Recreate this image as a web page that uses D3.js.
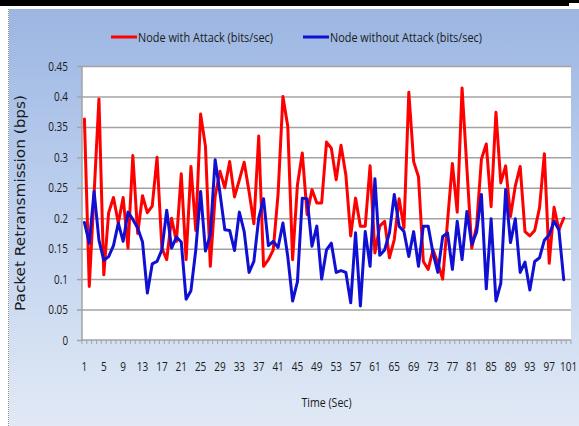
<!DOCTYPE html>
<html>
<head>
<meta charset="utf-8">
<script src="https://cdn.jsdelivr.net/npm/d3@7"></script>
<style>
  html, body { margin: 0; padding: 0; background: #ffffff; }
  svg { display: block; }
  text { font-family: "Open Sans", "Liberation Sans", sans-serif; fill: #1a1a1a; }
</style>
</head>
<body>
<svg id="chart" width="579" height="426"></svg>
<script>
// Time axis categories (seconds 1..101)
const times = d3.range(1, 102);

// Packet retransmission (bps) per second
const withAttack = [
  0.363, 0.088, 0.240, 0.396, 0.107, 0.209, 0.234, 0.192, 0.234, 0.151,
  0.303, 0.175, 0.237, 0.209, 0.220, 0.300, 0.151, 0.132, 0.200, 0.162,
  0.273, 0.132, 0.285, 0.180, 0.371, 0.318, 0.121, 0.236, 0.277, 0.250,
  0.293, 0.235, 0.263, 0.292, 0.244, 0.191, 0.335, 0.121, 0.132, 0.148,
  0.240, 0.400, 0.351, 0.132, 0.255, 0.307, 0.206, 0.247, 0.225, 0.225,
  0.325, 0.315, 0.263, 0.320, 0.271, 0.171, 0.233, 0.187, 0.187, 0.286,
  0.143, 0.187, 0.195, 0.135, 0.165, 0.232, 0.184, 0.407, 0.293, 0.268,
  0.129, 0.116, 0.148, 0.126, 0.100, 0.195, 0.290, 0.210, 0.414, 0.282,
  0.151, 0.187, 0.297, 0.322, 0.219, 0.374, 0.258, 0.286, 0.203, 0.253,
  0.285, 0.178, 0.171, 0.180, 0.217, 0.306, 0.126, 0.218, 0.181, 0.200
];

const withoutAttack = [
  0.193, 0.159, 0.244, 0.164, 0.131, 0.137, 0.155, 0.192, 0.162, 0.210,
  0.198, 0.184, 0.161, 0.077, 0.125, 0.129, 0.148, 0.213, 0.151, 0.169,
  0.161, 0.067, 0.081, 0.148, 0.244, 0.146, 0.173, 0.296, 0.241, 0.181,
  0.180, 0.147, 0.210, 0.178, 0.111, 0.129, 0.200, 0.232, 0.155, 0.162,
  0.152, 0.192, 0.137, 0.064, 0.096, 0.233, 0.232, 0.154, 0.187, 0.100,
  0.148, 0.159, 0.111, 0.114, 0.111, 0.061, 0.176, 0.056, 0.178, 0.121,
  0.265, 0.139, 0.148, 0.176, 0.239, 0.187, 0.178, 0.137, 0.178, 0.121,
  0.187, 0.187, 0.143, 0.111, 0.170, 0.176, 0.116, 0.195, 0.132, 0.211,
  0.157, 0.177, 0.239, 0.084, 0.199, 0.064, 0.093, 0.247, 0.160, 0.199,
  0.111, 0.128, 0.082, 0.129, 0.135, 0.164, 0.173, 0.195, 0.181, 0.099
];

const seriesNames = ["Node with Attack (bits/sec)", "Node without Attack (bits/sec)"];
const seriesColors = ["#ff0000", "#1010d4"];

const yTicks = [0, 0.05, 0.1, 0.15, 0.2, 0.25, 0.3, 0.35, 0.4, 0.45];
const yTickLabels = ["0", "0.05", "0.1", "0.15", "0.2", "0.25", "0.3", "0.35", "0.4", "0.45"];
const xTickLabels = d3.range(1, 102, 4);

const svg = d3.select("#chart");
const W = 579, H = 426;
const plot = { left: 82, right: 571, top: 66, bottom: 340 };

// Condensed label width for the numeric tick labels
const narrowWidth = s => Array.from(s).reduce((w, ch) => w + (ch === "." ? 2.9 : 5.6), 0);

// Panel background with vertical gradient
const defs = svg.append("defs");
const grad = defs.append("linearGradient").attr("id", "bg").attr("x1", 0).attr("y1", 0).attr("x2", 0).attr("y2", 1);
grad.append("stop").attr("offset", "0%").attr("stop-color", "#9cb6e2");
grad.append("stop").attr("offset", "45%").attr("stop-color", "#bccfee");
grad.append("stop").attr("offset", "100%").attr("stop-color", "#e1e9f5");

svg.append("rect").attr("x", 0).attr("y", 0).attr("width", W).attr("height", H).attr("fill", "#ffffff");
svg.append("rect").attr("x", 9).attr("y", 9).attr("width", W - 9).attr("height", H - 9).attr("fill", "url(#bg)");
svg.append("line").attr("x1", 8.5).attr("x2", 8.5).attr("y1", 9).attr("y2", H)
  .attr("stroke", "#8a8a8a").attr("stroke-width", 1).attr("stroke-dasharray", "1,1");
// top frame bar
svg.append("rect").attr("x", 0).attr("y", 0).attr("width", 569).attr("height", 6).attr("fill", "#000000");
svg.append("rect").attr("x", 0).attr("y", 0).attr("width", W).attr("height", 3).attr("fill", "#000000");

// Scales
const x = d3.scaleBand().domain(times).range([plot.left, plot.right]).paddingInner(0).paddingOuter(0);
const y = d3.scaleLinear().domain([0, 0.45]).range([plot.bottom, plot.top]);
const cx = t => x(t) + x.bandwidth() / 2;

// Plot area
svg.append("rect").attr("x", plot.left).attr("y", plot.top)
  .attr("width", plot.right - plot.left).attr("height", plot.bottom - plot.top).attr("fill", "#ffffff");

// Gridlines
const grid = svg.append("g").attr("transform", `translate(${plot.left},0)`)
  .call(d3.axisLeft(y).tickValues(yTicks.slice(1)).tickSize(-(plot.right - plot.left)).tickFormat(""));
grid.select(".domain").remove();
grid.selectAll("line").attr("stroke", "#a3a3a3").attr("stroke-width", 1.5);

// Y axis with tick labels
const yAxis = svg.append("g").attr("transform", `translate(${plot.left},0)`)
  .call(d3.axisLeft(y).tickValues(yTicks).tickSize(5).tickPadding(9)
    .tickFormat((d, i) => yTickLabels[i]));
yAxis.select(".domain").attr("stroke", "#a3a3a3").attr("stroke-width", 1.5).attr("d", `M0,${plot.top}V${plot.bottom}`);
yAxis.selectAll(".tick line").attr("stroke", "#a3a3a3").attr("stroke-width", 1.5);
yAxis.selectAll(".tick text").attr("font-size", 12.5).attr("fill", "#1a1a1a")
  .style("font-family", "'Open Sans', sans-serif")
  .attr("textLength", (d, i) => narrowWidth(yTickLabels[i]))
  .attr("lengthAdjust", "spacingAndGlyphs");

// X axis: category boundaries get tick marks, labels every 4 seconds
const xAxis = svg.append("g").attr("transform", `translate(0,${plot.bottom})`)
  .call(d3.axisBottom(x).tickValues(xTickLabels).tickSize(0).tickPadding(22));
xAxis.select(".domain").attr("stroke", "#a3a3a3").attr("stroke-width", 1.5)
  .attr("d", `M${plot.left},0H${plot.right}`);
// narrow face: condense each label horizontally around its centre
xAxis.selectAll(".tick text").attr("font-size", 12.5).attr("fill", "#1a1a1a")
  .style("font-family", "'Open Sans', sans-serif")
  .attr("transform", "scale(0.8,1)");

const bounds = times.map(t => x(t)).concat([x(times[times.length - 1]) + x.bandwidth()]);
svg.append("g").selectAll("line").data(bounds).join("line")
  .attr("x1", d => d).attr("x2", d => d)
  .attr("y1", plot.bottom).attr("y2", plot.bottom + 4)
  .attr("stroke", "#a3a3a3").attr("stroke-width", 1);

// Series lines
const line = d3.line().x((d, i) => cx(times[i])).y(d => y(d));
[withAttack, withoutAttack].forEach((vals, k) => {
  svg.append("path").datum(vals)
    .attr("d", line)
    .attr("fill", "none")
    .attr("stroke", seriesColors[k])
    .attr("stroke-width", 3)
    .attr("stroke-linejoin", "round")
    .attr("stroke-linecap", "round");
});

// Legend
const legendItems = [
  { x: 111, textLen: 135 },
  { x: 303, textLen: 152 }
];
legendItems.forEach((it, k) => {
  svg.append("line").attr("x1", it.x).attr("x2", it.x + 26).attr("y1", 37).attr("y2", 37)
    .attr("stroke", seriesColors[k]).attr("stroke-width", 3);
  svg.append("text").attr("x", it.x + 27).attr("y", 41.5)
    .attr("font-size", 13)
    .attr("textLength", it.textLen).attr("lengthAdjust", "spacingAndGlyphs")
    .text(seriesNames[k]);
});

// Axis titles
svg.append("text")
  .attr("x", (plot.left + plot.right) / 2).attr("y", 407)
  .attr("text-anchor", "middle").attr("font-size", 13)
  .attr("textLength", 50).attr("lengthAdjust", "spacingAndGlyphs")
  .text("Time (Sec)");

svg.append("text")
  .attr("transform", `translate(25,${(plot.top + plot.bottom) / 2}) rotate(-90)`)
  .attr("text-anchor", "middle").attr("font-size", 13.5)
  .style("font-family", "'DejaVu Sans', Verdana, sans-serif")
  .attr("textLength", 216).attr("lengthAdjust", "spacingAndGlyphs")
  .text("Packet Retransmission (bps)");
</script>
</body>
</html>
